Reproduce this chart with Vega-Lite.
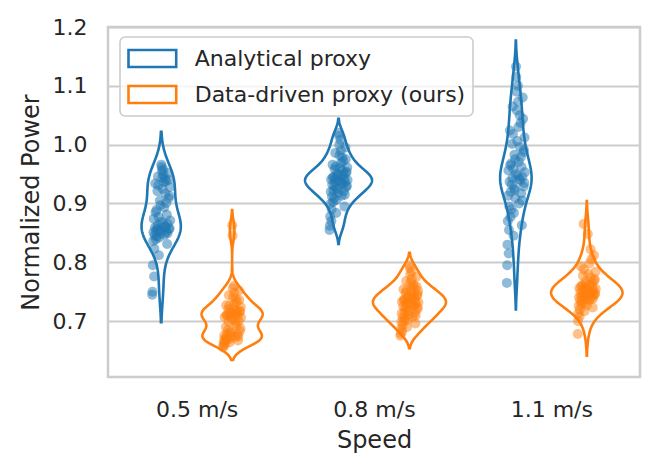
{
  "$schema": "https://vega.github.io/schema/vega-lite/v6.json",
  "width": 532,
  "height": 350,
  "autosize": {"type": "none"},
  "padding": {"left": 108, "top": 27, "right": 17, "bottom": 96},
  "config": {
    "font": "DejaVu Sans",
    "view": {"stroke": "#cccccc", "strokeWidth": 2.5},
    "axis": {"labelColor": "#262626", "titleColor": "#262626", "labelFontSize": 22, "titleFontSize": 24, "titleFontWeight": "normal", "ticks": false, "domain": false},
    "legend": {"strokeWidth": 1.6}
  },
  "data": {
    "values": [
      {"speed": 0.5, "proxy": "Analytical proxy", "power": 0.745},
      {"speed": 0.5, "proxy": "Analytical proxy", "power": 0.750},
      {"speed": 0.5, "proxy": "Analytical proxy", "power": 0.795},
      {"speed": 0.5, "proxy": "Analytical proxy", "power": 0.836},
      {"speed": 0.5, "proxy": "Analytical proxy", "power": 0.851},
      {"speed": 0.5, "proxy": "Analytical proxy", "power": 0.874},
      {"speed": 0.5, "proxy": "Analytical proxy", "power": 0.776},
      {"speed": 0.5, "proxy": "Analytical proxy", "power": 0.823},
      {"speed": 0.5, "proxy": "Analytical proxy", "power": 0.846},
      {"speed": 0.5, "proxy": "Analytical proxy", "power": 0.859},
      {"speed": 0.5, "proxy": "Analytical proxy", "power": 0.934},
      {"speed": 0.5, "proxy": "Analytical proxy", "power": 0.885},
      {"speed": 0.5, "proxy": "Analytical proxy", "power": 0.839},
      {"speed": 0.5, "proxy": "Analytical proxy", "power": 0.853},
      {"speed": 0.5, "proxy": "Analytical proxy", "power": 0.889},
      {"speed": 0.5, "proxy": "Analytical proxy", "power": 0.844},
      {"speed": 0.5, "proxy": "Analytical proxy", "power": 0.857},
      {"speed": 0.5, "proxy": "Analytical proxy", "power": 0.921},
      {"speed": 0.5, "proxy": "Analytical proxy", "power": 0.863},
      {"speed": 0.5, "proxy": "Analytical proxy", "power": 0.946},
      {"speed": 0.5, "proxy": "Analytical proxy", "power": 0.931},
      {"speed": 0.5, "proxy": "Analytical proxy", "power": 0.877},
      {"speed": 0.5, "proxy": "Analytical proxy", "power": 0.812},
      {"speed": 0.5, "proxy": "Analytical proxy", "power": 0.842},
      {"speed": 0.5, "proxy": "Analytical proxy", "power": 0.855},
      {"speed": 0.5, "proxy": "Analytical proxy", "power": 0.905},
      {"speed": 0.5, "proxy": "Analytical proxy", "power": 0.854},
      {"speed": 0.5, "proxy": "Analytical proxy", "power": 0.897},
      {"speed": 0.5, "proxy": "Analytical proxy", "power": 0.850},
      {"speed": 0.5, "proxy": "Analytical proxy", "power": 0.869},
      {"speed": 0.5, "proxy": "Analytical proxy", "power": 0.966},
      {"speed": 0.5, "proxy": "Analytical proxy", "power": 0.962},
      {"speed": 0.5, "proxy": "Analytical proxy", "power": 0.955},
      {"speed": 0.5, "proxy": "Analytical proxy", "power": 0.944},
      {"speed": 0.5, "proxy": "Analytical proxy", "power": 0.925},
      {"speed": 0.5, "proxy": "Analytical proxy", "power": 0.867},
      {"speed": 0.5, "proxy": "Analytical proxy", "power": 0.958},
      {"speed": 0.5, "proxy": "Analytical proxy", "power": 0.949},
      {"speed": 0.5, "proxy": "Analytical proxy", "power": 0.936},
      {"speed": 0.5, "proxy": "Analytical proxy", "power": 0.893},
      {"speed": 0.5, "proxy": "Analytical proxy", "power": 0.847},
      {"speed": 0.5, "proxy": "Analytical proxy", "power": 0.861},
      {"speed": 0.5, "proxy": "Analytical proxy", "power": 0.942},
      {"speed": 0.5, "proxy": "Analytical proxy", "power": 0.917},
      {"speed": 0.5, "proxy": "Analytical proxy", "power": 0.860},
      {"speed": 0.5, "proxy": "Analytical proxy", "power": 0.938},
      {"speed": 0.5, "proxy": "Analytical proxy", "power": 0.901},
      {"speed": 0.5, "proxy": "Analytical proxy", "power": 0.852},
      {"speed": 0.5, "proxy": "Analytical proxy", "power": 0.881},
      {"speed": 0.5, "proxy": "Analytical proxy", "power": 0.831},
      {"speed": 0.5, "proxy": "Analytical proxy", "power": 0.849},
      {"speed": 0.5, "proxy": "Analytical proxy", "power": 0.865},
      {"speed": 0.5, "proxy": "Analytical proxy", "power": 0.952},
      {"speed": 0.5, "proxy": "Analytical proxy", "power": 0.940},
      {"speed": 0.5, "proxy": "Analytical proxy", "power": 0.909},
      {"speed": 0.5, "proxy": "Analytical proxy", "power": 0.856},
      {"speed": 0.5, "proxy": "Analytical proxy", "power": 0.913},
      {"speed": 0.5, "proxy": "Analytical proxy", "power": 0.858},
      {"speed": 0.5, "proxy": "Analytical proxy", "power": 0.928},
      {"speed": 0.5, "proxy": "Analytical proxy", "power": 0.871},
      {"speed": 0.5, "proxy": "Data-driven proxy (ours)", "power": 0.655},
      {"speed": 0.5, "proxy": "Data-driven proxy (ours)", "power": 0.658},
      {"speed": 0.5, "proxy": "Data-driven proxy (ours)", "power": 0.662},
      {"speed": 0.5, "proxy": "Data-driven proxy (ours)", "power": 0.668},
      {"speed": 0.5, "proxy": "Data-driven proxy (ours)", "power": 0.676},
      {"speed": 0.5, "proxy": "Data-driven proxy (ours)", "power": 0.707},
      {"speed": 0.5, "proxy": "Data-driven proxy (ours)", "power": 0.660},
      {"speed": 0.5, "proxy": "Data-driven proxy (ours)", "power": 0.666},
      {"speed": 0.5, "proxy": "Data-driven proxy (ours)", "power": 0.672},
      {"speed": 0.5, "proxy": "Data-driven proxy (ours)", "power": 0.690},
      {"speed": 0.5, "proxy": "Data-driven proxy (ours)", "power": 0.727},
      {"speed": 0.5, "proxy": "Data-driven proxy (ours)", "power": 0.710},
      {"speed": 0.5, "proxy": "Data-driven proxy (ours)", "power": 0.669},
      {"speed": 0.5, "proxy": "Data-driven proxy (ours)", "power": 0.678},
      {"speed": 0.5, "proxy": "Data-driven proxy (ours)", "power": 0.711},
      {"speed": 0.5, "proxy": "Data-driven proxy (ours)", "power": 0.671},
      {"speed": 0.5, "proxy": "Data-driven proxy (ours)", "power": 0.685},
      {"speed": 0.5, "proxy": "Data-driven proxy (ours)", "power": 0.720},
      {"speed": 0.5, "proxy": "Data-driven proxy (ours)", "power": 0.699},
      {"speed": 0.5, "proxy": "Data-driven proxy (ours)", "power": 0.744},
      {"speed": 0.5, "proxy": "Data-driven proxy (ours)", "power": 0.726},
      {"speed": 0.5, "proxy": "Data-driven proxy (ours)", "power": 0.708},
      {"speed": 0.5, "proxy": "Data-driven proxy (ours)", "power": 0.664},
      {"speed": 0.5, "proxy": "Data-driven proxy (ours)", "power": 0.670},
      {"speed": 0.5, "proxy": "Data-driven proxy (ours)", "power": 0.682},
      {"speed": 0.5, "proxy": "Data-driven proxy (ours)", "power": 0.715},
      {"speed": 0.5, "proxy": "Data-driven proxy (ours)", "power": 0.680},
      {"speed": 0.5, "proxy": "Data-driven proxy (ours)", "power": 0.713},
      {"speed": 0.5, "proxy": "Data-driven proxy (ours)", "power": 0.675},
      {"speed": 0.5, "proxy": "Data-driven proxy (ours)", "power": 0.704},
      {"speed": 0.5, "proxy": "Data-driven proxy (ours)", "power": 0.863},
      {"speed": 0.5, "proxy": "Data-driven proxy (ours)", "power": 0.845},
      {"speed": 0.5, "proxy": "Data-driven proxy (ours)", "power": 0.756},
      {"speed": 0.5, "proxy": "Data-driven proxy (ours)", "power": 0.740},
      {"speed": 0.5, "proxy": "Data-driven proxy (ours)", "power": 0.722},
      {"speed": 0.5, "proxy": "Data-driven proxy (ours)", "power": 0.702},
      {"speed": 0.5, "proxy": "Data-driven proxy (ours)", "power": 0.760},
      {"speed": 0.5, "proxy": "Data-driven proxy (ours)", "power": 0.748},
      {"speed": 0.5, "proxy": "Data-driven proxy (ours)", "power": 0.730},
      {"speed": 0.5, "proxy": "Data-driven proxy (ours)", "power": 0.712},
      {"speed": 0.5, "proxy": "Data-driven proxy (ours)", "power": 0.673},
      {"speed": 0.5, "proxy": "Data-driven proxy (ours)", "power": 0.696},
      {"speed": 0.5, "proxy": "Data-driven proxy (ours)", "power": 0.738},
      {"speed": 0.5, "proxy": "Data-driven proxy (ours)", "power": 0.718},
      {"speed": 0.5, "proxy": "Data-driven proxy (ours)", "power": 0.692},
      {"speed": 0.5, "proxy": "Data-driven proxy (ours)", "power": 0.733},
      {"speed": 0.5, "proxy": "Data-driven proxy (ours)", "power": 0.714},
      {"speed": 0.5, "proxy": "Data-driven proxy (ours)", "power": 0.677},
      {"speed": 0.5, "proxy": "Data-driven proxy (ours)", "power": 0.709},
      {"speed": 0.5, "proxy": "Data-driven proxy (ours)", "power": 0.667},
      {"speed": 0.5, "proxy": "Data-driven proxy (ours)", "power": 0.674},
      {"speed": 0.5, "proxy": "Data-driven proxy (ours)", "power": 0.700},
      {"speed": 0.5, "proxy": "Data-driven proxy (ours)", "power": 0.752},
      {"speed": 0.5, "proxy": "Data-driven proxy (ours)", "power": 0.736},
      {"speed": 0.5, "proxy": "Data-driven proxy (ours)", "power": 0.716},
      {"speed": 0.5, "proxy": "Data-driven proxy (ours)", "power": 0.683},
      {"speed": 0.5, "proxy": "Data-driven proxy (ours)", "power": 0.717},
      {"speed": 0.5, "proxy": "Data-driven proxy (ours)", "power": 0.688},
      {"speed": 0.5, "proxy": "Data-driven proxy (ours)", "power": 0.724},
      {"speed": 0.5, "proxy": "Data-driven proxy (ours)", "power": 0.706},
      {"speed": 0.8, "proxy": "Analytical proxy", "power": 0.855},
      {"speed": 0.8, "proxy": "Analytical proxy", "power": 0.862},
      {"speed": 0.8, "proxy": "Analytical proxy", "power": 0.878},
      {"speed": 0.8, "proxy": "Analytical proxy", "power": 0.899},
      {"speed": 0.8, "proxy": "Analytical proxy", "power": 0.920},
      {"speed": 0.8, "proxy": "Analytical proxy", "power": 0.941},
      {"speed": 0.8, "proxy": "Analytical proxy", "power": 0.870},
      {"speed": 0.8, "proxy": "Analytical proxy", "power": 0.890},
      {"speed": 0.8, "proxy": "Analytical proxy", "power": 0.912},
      {"speed": 0.8, "proxy": "Analytical proxy", "power": 0.932},
      {"speed": 0.8, "proxy": "Analytical proxy", "power": 0.966},
      {"speed": 0.8, "proxy": "Analytical proxy", "power": 0.944},
      {"speed": 0.8, "proxy": "Analytical proxy", "power": 0.903},
      {"speed": 0.8, "proxy": "Analytical proxy", "power": 0.922},
      {"speed": 0.8, "proxy": "Analytical proxy", "power": 0.945},
      {"speed": 0.8, "proxy": "Analytical proxy", "power": 0.909},
      {"speed": 0.8, "proxy": "Analytical proxy", "power": 0.929},
      {"speed": 0.8, "proxy": "Analytical proxy", "power": 0.958},
      {"speed": 0.8, "proxy": "Analytical proxy", "power": 0.936},
      {"speed": 0.8, "proxy": "Analytical proxy", "power": 0.986},
      {"speed": 0.8, "proxy": "Analytical proxy", "power": 0.963},
      {"speed": 0.8, "proxy": "Analytical proxy", "power": 0.942},
      {"speed": 0.8, "proxy": "Analytical proxy", "power": 0.884},
      {"speed": 0.8, "proxy": "Analytical proxy", "power": 0.906},
      {"speed": 0.8, "proxy": "Analytical proxy", "power": 0.926},
      {"speed": 0.8, "proxy": "Analytical proxy", "power": 0.951},
      {"speed": 0.8, "proxy": "Analytical proxy", "power": 0.924},
      {"speed": 0.8, "proxy": "Analytical proxy", "power": 0.948},
      {"speed": 0.8, "proxy": "Analytical proxy", "power": 0.918},
      {"speed": 0.8, "proxy": "Analytical proxy", "power": 0.939},
      {"speed": 0.8, "proxy": "Analytical proxy", "power": 1.020},
      {"speed": 0.8, "proxy": "Analytical proxy", "power": 1.015},
      {"speed": 0.8, "proxy": "Analytical proxy", "power": 1.000},
      {"speed": 0.8, "proxy": "Analytical proxy", "power": 0.982},
      {"speed": 0.8, "proxy": "Analytical proxy", "power": 0.960},
      {"speed": 0.8, "proxy": "Analytical proxy", "power": 0.938},
      {"speed": 0.8, "proxy": "Analytical proxy", "power": 1.008},
      {"speed": 0.8, "proxy": "Analytical proxy", "power": 0.990},
      {"speed": 0.8, "proxy": "Analytical proxy", "power": 0.969},
      {"speed": 0.8, "proxy": "Analytical proxy", "power": 0.947},
      {"speed": 0.8, "proxy": "Analytical proxy", "power": 0.913},
      {"speed": 0.8, "proxy": "Analytical proxy", "power": 0.935},
      {"speed": 0.8, "proxy": "Analytical proxy", "power": 0.978},
      {"speed": 0.8, "proxy": "Analytical proxy", "power": 0.956},
      {"speed": 0.8, "proxy": "Analytical proxy", "power": 0.933},
      {"speed": 0.8, "proxy": "Analytical proxy", "power": 0.972},
      {"speed": 0.8, "proxy": "Analytical proxy", "power": 0.950},
      {"speed": 0.8, "proxy": "Analytical proxy", "power": 0.921},
      {"speed": 0.8, "proxy": "Analytical proxy", "power": 0.943},
      {"speed": 0.8, "proxy": "Analytical proxy", "power": 0.895},
      {"speed": 0.8, "proxy": "Analytical proxy", "power": 0.915},
      {"speed": 0.8, "proxy": "Analytical proxy", "power": 0.937},
      {"speed": 0.8, "proxy": "Analytical proxy", "power": 0.995},
      {"speed": 0.8, "proxy": "Analytical proxy", "power": 0.975},
      {"speed": 0.8, "proxy": "Analytical proxy", "power": 0.952},
      {"speed": 0.8, "proxy": "Analytical proxy", "power": 0.928},
      {"speed": 0.8, "proxy": "Analytical proxy", "power": 0.954},
      {"speed": 0.8, "proxy": "Analytical proxy", "power": 0.930},
      {"speed": 0.8, "proxy": "Analytical proxy", "power": 0.961},
      {"speed": 0.8, "proxy": "Analytical proxy", "power": 0.940},
      {"speed": 0.8, "proxy": "Data-driven proxy (ours)", "power": 0.675},
      {"speed": 0.8, "proxy": "Data-driven proxy (ours)", "power": 0.679},
      {"speed": 0.8, "proxy": "Data-driven proxy (ours)", "power": 0.687},
      {"speed": 0.8, "proxy": "Data-driven proxy (ours)", "power": 0.699},
      {"speed": 0.8, "proxy": "Data-driven proxy (ours)", "power": 0.713},
      {"speed": 0.8, "proxy": "Data-driven proxy (ours)", "power": 0.733},
      {"speed": 0.8, "proxy": "Data-driven proxy (ours)", "power": 0.683},
      {"speed": 0.8, "proxy": "Data-driven proxy (ours)", "power": 0.693},
      {"speed": 0.8, "proxy": "Data-driven proxy (ours)", "power": 0.706},
      {"speed": 0.8, "proxy": "Data-driven proxy (ours)", "power": 0.725},
      {"speed": 0.8, "proxy": "Data-driven proxy (ours)", "power": 0.754},
      {"speed": 0.8, "proxy": "Data-driven proxy (ours)", "power": 0.736},
      {"speed": 0.8, "proxy": "Data-driven proxy (ours)", "power": 0.700},
      {"speed": 0.8, "proxy": "Data-driven proxy (ours)", "power": 0.715},
      {"speed": 0.8, "proxy": "Data-driven proxy (ours)", "power": 0.737},
      {"speed": 0.8, "proxy": "Data-driven proxy (ours)", "power": 0.705},
      {"speed": 0.8, "proxy": "Data-driven proxy (ours)", "power": 0.721},
      {"speed": 0.8, "proxy": "Data-driven proxy (ours)", "power": 0.748},
      {"speed": 0.8, "proxy": "Data-driven proxy (ours)", "power": 0.728},
      {"speed": 0.8, "proxy": "Data-driven proxy (ours)", "power": 0.768},
      {"speed": 0.8, "proxy": "Data-driven proxy (ours)", "power": 0.752},
      {"speed": 0.8, "proxy": "Data-driven proxy (ours)", "power": 0.734},
      {"speed": 0.8, "proxy": "Data-driven proxy (ours)", "power": 0.690},
      {"speed": 0.8, "proxy": "Data-driven proxy (ours)", "power": 0.702},
      {"speed": 0.8, "proxy": "Data-driven proxy (ours)", "power": 0.719},
      {"speed": 0.8, "proxy": "Data-driven proxy (ours)", "power": 0.742},
      {"speed": 0.8, "proxy": "Data-driven proxy (ours)", "power": 0.717},
      {"speed": 0.8, "proxy": "Data-driven proxy (ours)", "power": 0.740},
      {"speed": 0.8, "proxy": "Data-driven proxy (ours)", "power": 0.711},
      {"speed": 0.8, "proxy": "Data-driven proxy (ours)", "power": 0.731},
      {"speed": 0.8, "proxy": "Data-driven proxy (ours)", "power": 0.795},
      {"speed": 0.8, "proxy": "Data-driven proxy (ours)", "power": 0.790},
      {"speed": 0.8, "proxy": "Data-driven proxy (ours)", "power": 0.779},
      {"speed": 0.8, "proxy": "Data-driven proxy (ours)", "power": 0.765},
      {"speed": 0.8, "proxy": "Data-driven proxy (ours)", "power": 0.750},
      {"speed": 0.8, "proxy": "Data-driven proxy (ours)", "power": 0.730},
      {"speed": 0.8, "proxy": "Data-driven proxy (ours)", "power": 0.784},
      {"speed": 0.8, "proxy": "Data-driven proxy (ours)", "power": 0.771},
      {"speed": 0.8, "proxy": "Data-driven proxy (ours)", "power": 0.756},
      {"speed": 0.8, "proxy": "Data-driven proxy (ours)", "power": 0.738},
      {"speed": 0.8, "proxy": "Data-driven proxy (ours)", "power": 0.707},
      {"speed": 0.8, "proxy": "Data-driven proxy (ours)", "power": 0.727},
      {"speed": 0.8, "proxy": "Data-driven proxy (ours)", "power": 0.762},
      {"speed": 0.8, "proxy": "Data-driven proxy (ours)", "power": 0.746},
      {"speed": 0.8, "proxy": "Data-driven proxy (ours)", "power": 0.726},
      {"speed": 0.8, "proxy": "Data-driven proxy (ours)", "power": 0.758},
      {"speed": 0.8, "proxy": "Data-driven proxy (ours)", "power": 0.741},
      {"speed": 0.8, "proxy": "Data-driven proxy (ours)", "power": 0.714},
      {"speed": 0.8, "proxy": "Data-driven proxy (ours)", "power": 0.735},
      {"speed": 0.8, "proxy": "Data-driven proxy (ours)", "power": 0.696},
      {"speed": 0.8, "proxy": "Data-driven proxy (ours)", "power": 0.709},
      {"speed": 0.8, "proxy": "Data-driven proxy (ours)", "power": 0.729},
      {"speed": 0.8, "proxy": "Data-driven proxy (ours)", "power": 0.775},
      {"speed": 0.8, "proxy": "Data-driven proxy (ours)", "power": 0.759},
      {"speed": 0.8, "proxy": "Data-driven proxy (ours)", "power": 0.744},
      {"speed": 0.8, "proxy": "Data-driven proxy (ours)", "power": 0.720},
      {"speed": 0.8, "proxy": "Data-driven proxy (ours)", "power": 0.745},
      {"speed": 0.8, "proxy": "Data-driven proxy (ours)", "power": 0.723},
      {"speed": 0.8, "proxy": "Data-driven proxy (ours)", "power": 0.751},
      {"speed": 0.8, "proxy": "Data-driven proxy (ours)", "power": 0.732},
      {"speed": 1.1, "proxy": "Analytical proxy", "power": 0.765},
      {"speed": 1.1, "proxy": "Analytical proxy", "power": 0.795},
      {"speed": 1.1, "proxy": "Analytical proxy", "power": 0.830},
      {"speed": 1.1, "proxy": "Analytical proxy", "power": 0.870},
      {"speed": 1.1, "proxy": "Analytical proxy", "power": 0.913},
      {"speed": 1.1, "proxy": "Analytical proxy", "power": 0.956},
      {"speed": 1.1, "proxy": "Analytical proxy", "power": 0.815},
      {"speed": 1.1, "proxy": "Analytical proxy", "power": 0.855},
      {"speed": 1.1, "proxy": "Analytical proxy", "power": 0.895},
      {"speed": 1.1, "proxy": "Analytical proxy", "power": 0.937},
      {"speed": 1.1, "proxy": "Analytical proxy", "power": 1.024},
      {"speed": 1.1, "proxy": "Analytical proxy", "power": 0.965},
      {"speed": 1.1, "proxy": "Analytical proxy", "power": 0.877},
      {"speed": 1.1, "proxy": "Analytical proxy", "power": 0.920},
      {"speed": 1.1, "proxy": "Analytical proxy", "power": 0.968},
      {"speed": 1.1, "proxy": "Analytical proxy", "power": 0.890},
      {"speed": 1.1, "proxy": "Analytical proxy", "power": 0.932},
      {"speed": 1.1, "proxy": "Analytical proxy", "power": 1.001},
      {"speed": 1.1, "proxy": "Analytical proxy", "power": 0.943},
      {"speed": 1.1, "proxy": "Analytical proxy", "power": 1.065},
      {"speed": 1.1, "proxy": "Analytical proxy", "power": 1.018},
      {"speed": 1.1, "proxy": "Analytical proxy", "power": 0.959},
      {"speed": 1.1, "proxy": "Analytical proxy", "power": 0.845},
      {"speed": 1.1, "proxy": "Analytical proxy", "power": 0.884},
      {"speed": 1.1, "proxy": "Analytical proxy", "power": 0.926},
      {"speed": 1.1, "proxy": "Analytical proxy", "power": 0.983},
      {"speed": 1.1, "proxy": "Analytical proxy", "power": 0.923},
      {"speed": 1.1, "proxy": "Analytical proxy", "power": 0.975},
      {"speed": 1.1, "proxy": "Analytical proxy", "power": 0.909},
      {"speed": 1.1, "proxy": "Analytical proxy", "power": 0.950},
      {"speed": 1.1, "proxy": "Analytical proxy", "power": 1.133},
      {"speed": 1.1, "proxy": "Analytical proxy", "power": 1.115},
      {"speed": 1.1, "proxy": "Analytical proxy", "power": 1.090},
      {"speed": 1.1, "proxy": "Analytical proxy", "power": 1.058},
      {"speed": 1.1, "proxy": "Analytical proxy", "power": 1.006},
      {"speed": 1.1, "proxy": "Analytical proxy", "power": 0.947},
      {"speed": 1.1, "proxy": "Analytical proxy", "power": 1.100},
      {"speed": 1.1, "proxy": "Analytical proxy", "power": 1.073},
      {"speed": 1.1, "proxy": "Analytical proxy", "power": 1.030},
      {"speed": 1.1, "proxy": "Analytical proxy", "power": 0.971},
      {"speed": 1.1, "proxy": "Analytical proxy", "power": 0.900},
      {"speed": 1.1, "proxy": "Analytical proxy", "power": 0.941},
      {"speed": 1.1, "proxy": "Analytical proxy", "power": 1.050},
      {"speed": 1.1, "proxy": "Analytical proxy", "power": 0.996},
      {"speed": 1.1, "proxy": "Analytical proxy", "power": 0.939},
      {"speed": 1.1, "proxy": "Analytical proxy", "power": 1.037},
      {"speed": 1.1, "proxy": "Analytical proxy", "power": 0.979},
      {"speed": 1.1, "proxy": "Analytical proxy", "power": 0.917},
      {"speed": 1.1, "proxy": "Analytical proxy", "power": 0.962},
      {"speed": 1.1, "proxy": "Analytical proxy", "power": 0.863},
      {"speed": 1.1, "proxy": "Analytical proxy", "power": 0.905},
      {"speed": 1.1, "proxy": "Analytical proxy", "power": 0.945},
      {"speed": 1.1, "proxy": "Analytical proxy", "power": 1.080},
      {"speed": 1.1, "proxy": "Analytical proxy", "power": 1.044},
      {"speed": 1.1, "proxy": "Analytical proxy", "power": 0.987},
      {"speed": 1.1, "proxy": "Analytical proxy", "power": 0.929},
      {"speed": 1.1, "proxy": "Analytical proxy", "power": 0.991},
      {"speed": 1.1, "proxy": "Analytical proxy", "power": 0.935},
      {"speed": 1.1, "proxy": "Analytical proxy", "power": 1.012},
      {"speed": 1.1, "proxy": "Analytical proxy", "power": 0.953},
      {"speed": 1.1, "proxy": "Data-driven proxy (ours)", "power": 0.678},
      {"speed": 1.1, "proxy": "Data-driven proxy (ours)", "power": 0.700},
      {"speed": 1.1, "proxy": "Data-driven proxy (ours)", "power": 0.713},
      {"speed": 1.1, "proxy": "Data-driven proxy (ours)", "power": 0.726},
      {"speed": 1.1, "proxy": "Data-driven proxy (ours)", "power": 0.740},
      {"speed": 1.1, "proxy": "Data-driven proxy (ours)", "power": 0.756},
      {"speed": 1.1, "proxy": "Data-driven proxy (ours)", "power": 0.708},
      {"speed": 1.1, "proxy": "Data-driven proxy (ours)", "power": 0.720},
      {"speed": 1.1, "proxy": "Data-driven proxy (ours)", "power": 0.735},
      {"speed": 1.1, "proxy": "Data-driven proxy (ours)", "power": 0.748},
      {"speed": 1.1, "proxy": "Data-driven proxy (ours)", "power": 0.793},
      {"speed": 1.1, "proxy": "Data-driven proxy (ours)", "power": 0.759},
      {"speed": 1.1, "proxy": "Data-driven proxy (ours)", "power": 0.729},
      {"speed": 1.1, "proxy": "Data-driven proxy (ours)", "power": 0.742},
      {"speed": 1.1, "proxy": "Data-driven proxy (ours)", "power": 0.761},
      {"speed": 1.1, "proxy": "Data-driven proxy (ours)", "power": 0.733},
      {"speed": 1.1, "proxy": "Data-driven proxy (ours)", "power": 0.746},
      {"speed": 1.1, "proxy": "Data-driven proxy (ours)", "power": 0.777},
      {"speed": 1.1, "proxy": "Data-driven proxy (ours)", "power": 0.751},
      {"speed": 1.1, "proxy": "Data-driven proxy (ours)", "power": 0.865},
      {"speed": 1.1, "proxy": "Data-driven proxy (ours)", "power": 0.788},
      {"speed": 1.1, "proxy": "Data-driven proxy (ours)", "power": 0.757},
      {"speed": 1.1, "proxy": "Data-driven proxy (ours)", "power": 0.717},
      {"speed": 1.1, "proxy": "Data-driven proxy (ours)", "power": 0.731},
      {"speed": 1.1, "proxy": "Data-driven proxy (ours)", "power": 0.744},
      {"speed": 1.1, "proxy": "Data-driven proxy (ours)", "power": 0.767},
      {"speed": 1.1, "proxy": "Data-driven proxy (ours)", "power": 0.743},
      {"speed": 1.1, "proxy": "Data-driven proxy (ours)", "power": 0.763},
      {"speed": 1.1, "proxy": "Data-driven proxy (ours)", "power": 0.739},
      {"speed": 1.1, "proxy": "Data-driven proxy (ours)", "power": 0.754},
      {"speed": 1.1, "proxy": "Data-driven proxy (ours)", "power": 0.727},
      {"speed": 1.1, "proxy": "Data-driven proxy (ours)", "power": 0.754},
      {"speed": 1.1, "proxy": "Data-driven proxy (ours)", "power": 0.749},
      {"speed": 1.1, "proxy": "Data-driven proxy (ours)", "power": 0.848},
      {"speed": 1.1, "proxy": "Data-driven proxy (ours)", "power": 0.780},
      {"speed": 1.1, "proxy": "Data-driven proxy (ours)", "power": 0.753},
      {"speed": 1.1, "proxy": "Data-driven proxy (ours)", "power": 0.736},
      {"speed": 1.1, "proxy": "Data-driven proxy (ours)", "power": 0.744},
      {"speed": 1.1, "proxy": "Data-driven proxy (ours)", "power": 0.798},
      {"speed": 1.1, "proxy": "Data-driven proxy (ours)", "power": 0.762},
      {"speed": 1.1, "proxy": "Data-driven proxy (ours)", "power": 0.737},
      {"speed": 1.1, "proxy": "Data-driven proxy (ours)", "power": 0.750},
      {"speed": 1.1, "proxy": "Data-driven proxy (ours)", "power": 0.822},
      {"speed": 1.1, "proxy": "Data-driven proxy (ours)", "power": 0.774},
      {"speed": 1.1, "proxy": "Data-driven proxy (ours)", "power": 0.749},
      {"speed": 1.1, "proxy": "Data-driven proxy (ours)", "power": 0.805},
      {"speed": 1.1, "proxy": "Data-driven proxy (ours)", "power": 0.765},
      {"speed": 1.1, "proxy": "Data-driven proxy (ours)", "power": 0.741},
      {"speed": 1.1, "proxy": "Data-driven proxy (ours)", "power": 0.758},
      {"speed": 1.1, "proxy": "Data-driven proxy (ours)", "power": 0.723},
      {"speed": 1.1, "proxy": "Data-driven proxy (ours)", "power": 0.738},
      {"speed": 1.1, "proxy": "Data-driven proxy (ours)", "power": 0.752},
      {"speed": 1.1, "proxy": "Data-driven proxy (ours)", "power": 0.746},
      {"speed": 1.1, "proxy": "Data-driven proxy (ours)", "power": 0.812},
      {"speed": 1.1, "proxy": "Data-driven proxy (ours)", "power": 0.769},
      {"speed": 1.1, "proxy": "Data-driven proxy (ours)", "power": 0.745},
      {"speed": 1.1, "proxy": "Data-driven proxy (ours)", "power": 0.771},
      {"speed": 1.1, "proxy": "Data-driven proxy (ours)", "power": 0.747},
      {"speed": 1.1, "proxy": "Data-driven proxy (ours)", "power": 0.784},
      {"speed": 1.1, "proxy": "Data-driven proxy (ours)", "power": 0.755}
    ]
  },
  "encoding": {
    "y": {
      "field": "power",
      "type": "quantitative",
      "title": "Normalized Power",
      "scale": {"domain": [0.605, 1.2], "nice": false, "zero": false},
      "axis": {"values": [0.7, 0.8, 0.9, 1.0, 1.1, 1.2], "format": ".1f", "grid": true, "gridColor": "#cccccc", "gridWidth": 2, "labelPadding": 21, "titlePadding": 9}
    }
  },
  "layer": [
    {
      "encoding": {
        "x": {
          "field": "lo",
          "type": "quantitative",
          "title": "Speed",
          "scale": {"domain": [0.35, 1.25], "nice": false, "zero": false},
          "axis": {"values": [0.5, 0.8, 1.1], "labelExpr": "datum.label + ' m/s'", "grid": false, "labelPadding": 22, "titlePadding": 8}
        },
        "x2": {"field": "hi"},
        "color": {
          "field": "proxy",
          "type": "nominal",
          "scale": {"domain": ["Analytical proxy", "Data-driven proxy (ours)"], "range": ["#1f77b4", "#ff7f0e"]},
          "legend": {
            "title": null, "orient": "none", "legendX": 12, "legendY": 10,
            "symbolType": "M-1,-0.654H2.67V0.654H-1Z", "symbolSize": 676, "symbolStrokeWidth": 2.6, "symbolOpacity": 1,
            "labelFontSize": 22, "labelColor": "#262626", "labelOffset": 38.7, "labelLimit": 0, "rowPadding": 7, "padding": 7,
            "strokeColor": "#cccccc", "fillColor": "rgba(255,255,255,0.8)", "cornerRadius": 5
          }
        }
      },
      "layer": [
        {
          "transform": [
            {"filter": "datum.speed == 0.5 && datum.proxy == 'Analytical proxy'"},
            {"density": "power", "groupby": ["speed", "proxy"], "bandwidth": 0.027, "extent": [0.698, 1.022], "steps": 200, "as": ["power", "density"]},
            {"calculate": "datum.speed - 0.06 - datum.density * 0.0046", "as": "lo"},
            {"calculate": "datum.speed - 0.06 + datum.density * 0.0046", "as": "hi"}
          ],
          "mark": {"type": "area", "orient": "horizontal", "filled": false, "strokeWidth": 2.6}
        },
        {
          "transform": [
            {"filter": "datum.speed == 0.5 && datum.proxy == 'Data-driven proxy (ours)'"},
            {"density": "power", "groupby": ["speed", "proxy"], "bandwidth": 0.012, "extent": [0.634, 0.889], "steps": 200, "as": ["power", "density"]},
            {"calculate": "datum.speed + 0.06 - datum.density * 0.0046", "as": "lo"},
            {"calculate": "datum.speed + 0.06 + datum.density * 0.0046", "as": "hi"}
          ],
          "mark": {"type": "area", "orient": "horizontal", "filled": false, "strokeWidth": 2.6}
        },
        {
          "transform": [
            {"filter": "datum.speed == 0.8 && datum.proxy == 'Analytical proxy'"},
            {"density": "power", "groupby": ["speed", "proxy"], "bandwidth": 0.012, "extent": [0.831, 1.044], "steps": 200, "as": ["power", "density"]},
            {"calculate": "datum.speed - 0.06 - datum.density * 0.0046", "as": "lo"},
            {"calculate": "datum.speed - 0.06 + datum.density * 0.0046", "as": "hi"}
          ],
          "mark": {"type": "area", "orient": "horizontal", "filled": false, "strokeWidth": 2.6}
        },
        {
          "transform": [
            {"filter": "datum.speed == 0.8 && datum.proxy == 'Data-driven proxy (ours)'"},
            {"density": "power", "groupby": ["speed", "proxy"], "bandwidth": 0.011, "extent": [0.654, 0.816], "steps": 200, "as": ["power", "density"]},
            {"calculate": "datum.speed + 0.06 - datum.density * 0.0046", "as": "lo"},
            {"calculate": "datum.speed + 0.06 + datum.density * 0.0046", "as": "hi"}
          ],
          "mark": {"type": "area", "orient": "horizontal", "filled": false, "strokeWidth": 2.6}
        },
        {
          "transform": [
            {"filter": "datum.speed == 1.1 && datum.proxy == 'Analytical proxy'"},
            {"density": "power", "groupby": ["speed", "proxy"], "bandwidth": 0.022, "extent": [0.72, 1.177], "steps": 200, "as": ["power", "density"]},
            {"calculate": "datum.speed - 0.06 - datum.density * 0.0046", "as": "lo"},
            {"calculate": "datum.speed - 0.06 + datum.density * 0.0046", "as": "hi"}
          ],
          "mark": {"type": "area", "orient": "horizontal", "filled": false, "strokeWidth": 2.6}
        },
        {
          "transform": [
            {"filter": "datum.speed == 1.1 && datum.proxy == 'Data-driven proxy (ours)'"},
            {"density": "power", "groupby": ["speed", "proxy"], "bandwidth": 0.019, "extent": [0.641, 0.904], "steps": 200, "as": ["power", "density"]},
            {"calculate": "datum.speed + 0.06 - datum.density * 0.0046", "as": "lo"},
            {"calculate": "datum.speed + 0.06 + datum.density * 0.0046", "as": "hi"}
          ],
          "mark": {"type": "area", "orient": "horizontal", "filled": false, "strokeWidth": 2.6}
        }
      ]
    },
    {
      "encoding": {
        "x": {"field": "speed", "type": "ordinal", "scale": {"type": "band", "paddingInner": 0, "paddingOuter": 0}, "axis": null}
      },
      "layer": [
        {
          "transform": [
            {"filter": "datum.proxy == 'Analytical proxy'"},
            {"window": [{"op": "row_number", "as": "order"}], "groupby": ["speed"]}
          ],
          "mark": {"type": "circle", "size": 100, "opacity": 0.5, "color": "#1f77b4"},
          "encoding": {
            "xOffset": {"field": "order", "type": "quantitative", "scale": {"domain": [1, 60], "range": [44.2, 62.2]}}
          }
        },
        {
          "transform": [
            {"filter": "datum.proxy == 'Data-driven proxy (ours)'"},
            {"window": [{"op": "row_number", "as": "order"}], "groupby": ["speed"]}
          ],
          "mark": {"type": "circle", "size": 100, "opacity": 0.5, "color": "#ff7f0e"},
          "encoding": {
            "xOffset": {"field": "order", "type": "quantitative", "scale": {"domain": [1, 60], "range": [115.1, 133.1]}}
          }
        }
      ],
      "resolve": {"scale": {"xOffset": "independent"}}
    }
  ],
  "resolve": {"scale": {"x": "independent"}}
}
